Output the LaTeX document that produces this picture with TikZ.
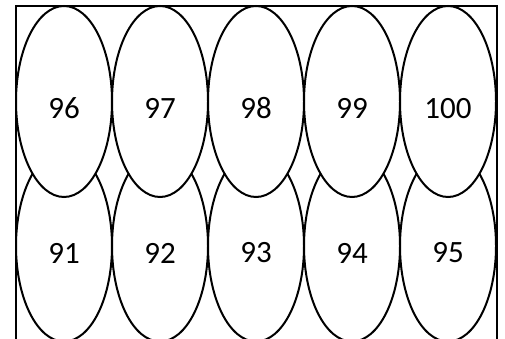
\documentclass[tikz,border=0pt]{standalone}
\usepackage{fontspec}
\setmainfont{Carlito}
\usetikzlibrary{shapes.geometric}
\tikzset{
  frame/.style={line width=2pt},
  cell/.style={ellipse,draw,fill=white,line width=2pt,inner sep=0pt,
    minimum width=96pt,minimum height=191pt},
  num/.style={font=\fontsize{31}{37}\selectfont,yshift=-7pt},
}
\begin{document}
\begin{tikzpicture}[x=1pt,y=1pt]
  \useasboundingbox (0,0) rectangle (505,339);
  \clip (0,0) rectangle (505,339);
  % outer frame, open at the bottom
  \draw[frame] (16,-20) rectangle (497,333);
  % bottom row first, top row drawn over it
  \foreach \i in {1,...,5}{
    \pgfmathtruncatemacro{\n}{90+\i}
    \node[cell,label={[num]center:\n}] (cell\n) at (16+96*\i-48,93) {};
  }
  \foreach \i in {1,...,5}{
    \pgfmathtruncatemacro{\n}{95+\i}
    \node[cell,label={[num]center:\n}] (cell\n) at (16+96*\i-48,237.5) {};
  }
\end{tikzpicture}
\end{document}
